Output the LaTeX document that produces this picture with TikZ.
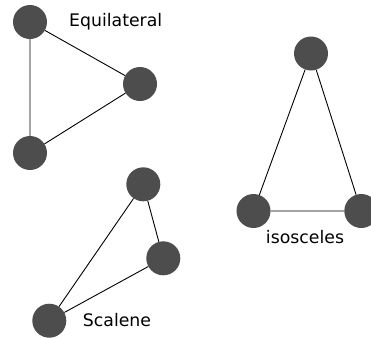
\documentclass[tikz,border=0pt]{standalone}
\usepackage{fontspec}
\setmainfont{DejaVu Sans}
\tikzset{
  vertex/.style={circle, fill=vtxgray, draw=none, minimum size=34pt, inner sep=0pt},
  edge/.style={draw=black, line width=0.9pt},
  caption/.style={inner sep=0pt, font=\fontsize{17.3}{20}\selectfont}
}
\definecolor{vtxgray}{RGB}{77,77,77}
\begin{document}
\begin{tikzpicture}[x=1pt, y=-1pt]
  \useasboundingbox (0,0) rectangle (371,338);
  \clip (0,0) rectangle (371,338);
  % equilateral triangle
  \node[vertex] (e1) at (30,22) {};
  \node[vertex] (e2) at (140,84) {};
  \node[vertex] (e3) at (30,153) {};
  \draw[edge] (e1) -- (e2) (e2) -- (e3) (e3) -- (e1);
  \node[caption, anchor=base west] (elabel) at (69,26.7) {Equilateral};
  % isosceles triangle
  \node[vertex] (i1) at (311,53.5) {};
  \node[vertex] (i2) at (253.5,211) {};
  \node[vertex] (i3) at (361.3,211) {};
  \draw[edge] (i1) -- (i2) (i2) -- (i3) (i3) -- (i1);
  \node[caption, anchor=base] (ilabel) at (305,243.3) {isosceles};
  % scalene triangle
  \node[vertex] (s1) at (143.3,184.3) {};
  \node[vertex] (s2) at (163.3,258.3) {};
  \node[vertex] (s3) at (49.3,320.7) {};
  \draw[edge] (s1) -- (s2) (s2) -- (s3) (s3) -- (s1);
  \node[caption, anchor=base west] (slabel) at (82.7,326) {Scalene};
\end{tikzpicture}
\end{document}
